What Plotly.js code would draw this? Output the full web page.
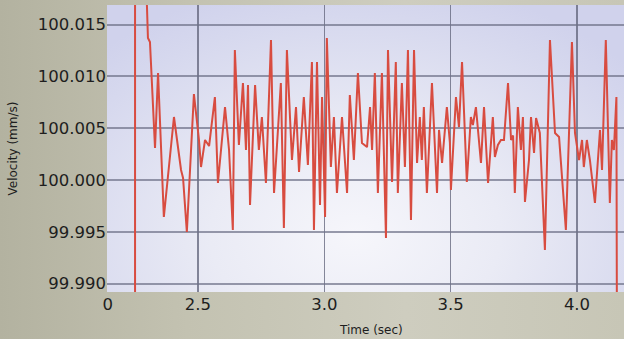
<!DOCTYPE html>
<html>
<head>
<meta charset="utf-8">
<script src="https://cdn.plot.ly/plotly-3.0.1.min.js"></script>
<style>
  html, body { margin: 0; padding: 0; width: 624px; height: 339px; overflow: hidden; }
  body { background: linear-gradient(90deg, #b3b2a0 0%, #c3c2b1 30%, #cecdbf 65%, #c7c6b6 100%); }
  #plotbg { position: absolute; left: 107px; top: 5px; width: 517px; height: 287px;
    background: radial-gradient(ellipse 70% 90% at 48% 80%, #f6f6fb 0%, #eaebf5 40%, #d6d8ee 85%, #d0d2ec 100%); }
  #chart { position: absolute; left: 0; top: 0; width: 624px; height: 339px; }
</style>
</head>
<body>
<div id="plotbg"></div>
<div id="chart"></div>
<script>
// Time (sec)
const timeSec = [
  2.251, 2.251, 2.294, 2.302, 2.310, 2.330, 2.342, 2.365, 2.405, 2.433, 2.441, 2.456, 2.484,
  2.504, 2.512, 2.528, 2.544, 2.567, 2.579, 2.607, 2.623, 2.638, 2.646, 2.662, 2.678, 2.690,
  2.698, 2.706, 2.726, 2.741, 2.753, 2.769, 2.789, 2.801, 2.828, 2.840, 2.852,
  2.872, 2.888, 2.900, 2.919, 2.935, 2.951, 2.959, 2.971, 2.983, 2.991, 3.003, 3.010, 3.026,
  3.038, 3.050, 3.070, 3.090, 3.101, 3.117, 3.133, 3.149,
  3.169, 3.181, 3.189, 3.200, 3.212, 3.228, 3.244, 3.252, 3.268, 3.283, 3.291, 3.307, 3.319,
  3.331, 3.343, 3.355, 3.367, 3.378, 3.386, 3.394, 3.406, 3.426, 3.446, 3.454, 3.466, 3.485, 3.497,
  3.501, 3.521, 3.533, 3.545, 3.564, 3.580, 3.588, 3.600, 3.620, 3.632, 3.648, 3.667, 3.675,
  3.687, 3.699, 3.711, 3.727, 3.739, 3.747, 3.754, 3.766, 3.778, 3.786, 3.794, 3.810, 3.818,
  3.830, 3.838, 3.853, 3.873, 3.893, 3.913, 3.929, 3.956, 3.980, 3.992, 4.008, 4.020, 4.027,
  4.039, 4.051, 4.071, 4.091, 4.099, 4.114, 4.130, 4.138, 4.146, 4.156, 4.158
];
// Velocity (mm/s)
const velocity = [
  99.98500, 100.02000, 100.02000, 100.01371, 100.01332, 100.00309, 100.01033, 99.99643, 100.00608, 100.00097, 100.00019, 99.99498, 100.00830,
  100.00386, 100.00125, 100.00386, 100.00328, 100.00801, 99.99971, 100.00704, 100.00290, 99.99518, 100.01255, 100.00338, 100.00936, 100.00290,
  100.00917, 99.99759, 100.00917, 100.00290, 100.00608, 99.99971, 100.01351, 99.99875, 100.00936, 99.99537, 100.01255,
  100.00193, 100.00704, 100.00077, 100.00801, 100.00145, 100.01139, 99.99518, 100.01139, 99.99759, 100.00801, 99.99643, 100.01371, 100.00125,
  100.00608, 99.99875, 100.00608, 99.99875, 100.00820, 100.00193, 100.01033, 100.00357,
  100.00318, 100.00704, 100.00290, 100.01033, 99.99875, 100.01033, 99.99440, 100.01255, 99.99981, 100.01139, 99.99875, 100.00936, 100.00125,
  100.01255, 99.99614, 100.01255, 100.00164, 100.00608, 100.00193, 100.00704, 99.99875, 100.00936, 99.99875, 100.00483, 100.00164, 100.00704, 100.00357,
  99.99903, 100.00801, 100.00511, 100.01139, 99.99981, 100.00608, 100.00531, 100.00704, 100.00164, 100.00704, 99.99971, 100.00608, 100.00222,
  100.00338, 100.00386, 100.00386, 100.00936, 100.00386, 100.00430, 99.99875, 100.00704, 100.00290, 100.00608, 99.99788, 100.00193, 100.00608,
  100.00261, 100.00598, 100.00454, 99.99325, 100.01351, 100.00454, 100.00415, 99.99518, 100.01332, 100.00454, 100.00193, 100.00386, 100.00125,
  100.00386, 100.00193, 99.99778, 100.00483, 100.00097, 100.01351, 99.99778, 100.00386, 100.00290, 100.00801, 99.98500
];
const xTickVals = [2.143, 2.5, 3.0, 3.5, 4.0];
const xTickText = ['0', '2.5', '3.0', '3.5', '4.0'];
const yTickVals = [99.990, 99.995, 100.000, 100.005, 100.010, 100.015];
const yTickText = ['99.990', '99.995', '100.000', '100.005', '100.010', '100.015'];

const trace = {
  x: timeSec, y: velocity, type: 'scatter', mode: 'lines',
  line: { color: '#d84c40', width: 2, shape: 'linear' },
  hoverinfo: 'skip'
};
const tickFont = { family: 'DejaVu Sans', size: 16.5, color: '#1e1e1e' };
const layout = {
  width: 624, height: 339,
  margin: { l: 107, r: 0, t: 5, b: 47 },
  paper_bgcolor: 'rgba(0,0,0,0)', plot_bgcolor: 'rgba(0,0,0,0)',
  showlegend: false,
  xaxis: {
    range: [2.140, 4.186], tickmode: 'array', tickvals: xTickVals, ticktext: xTickText,
    showgrid: true, gridcolor: 'rgba(95,98,120,0.75)', gridwidth: 1.5,
    zeroline: false, showline: false, ticks: '', tickfont: tickFont, fixedrange: true
  },
  yaxis: {
    range: [99.98919, 100.01689], tickmode: 'array', tickvals: yTickVals, ticktext: yTickText,
    showgrid: true, gridcolor: 'rgba(110,112,135,0.7)', gridwidth: 2,
    zeroline: false, showline: false, ticks: '', tickfont: tickFont, fixedrange: true
  },
  annotations: [
    { text: 'Velocity (mm/s)', xref: 'paper', yref: 'paper', x: 0, y: 0.5, xshift: -95,
      xanchor: 'center', yanchor: 'middle', textangle: -90, showarrow: false,
      font: { family: 'DejaVu Sans', size: 12, color: '#1e1e1e' } },
    { text: 'Time (sec)', xref: 'paper', yref: 'paper', x: 0.51, y: 0, yshift: -38,
      xanchor: 'center', yanchor: 'middle', showarrow: false,
      font: { family: 'DejaVu Sans', size: 12, color: '#1e1e1e' } }
  ]
};
Plotly.newPlot('chart', [trace], layout, { displayModeBar: false, staticPlot: true });
</script>
</body>
</html>
